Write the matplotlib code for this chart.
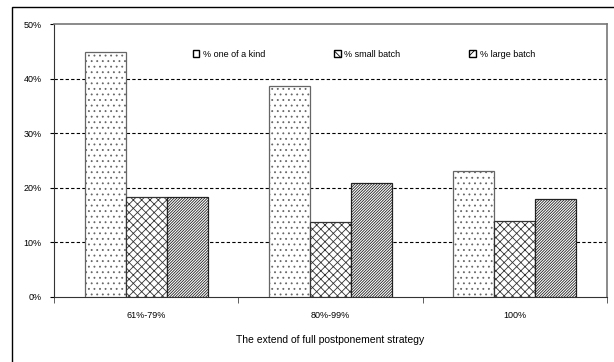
import matplotlib.pyplot as plt
import numpy as np
from matplotlib.patches import Patch, Rectangle

plt.rcParams['font.family'] = ['Liberation Sans', 'DejaVu Sans']
plt.rcParams['hatch.linewidth'] = 0.6

categories = ["61%-79%", "80%-99%", "100%"]
series_names = ["% one of a kind", "% small batch", "% large batch"]
one_of_a_kind = [44.8, 38.6, 23.0]
small_batch = [18.3, 13.8, 14.0]
large_batch = [18.3, 20.8, 17.9]
y_ticks = [0, 10, 20, 30, 40, 50]

series = [one_of_a_kind, small_batch, large_batch]
hatches = ['...', 'xxxx', '////////////']
edges = ['#666666', '#333333', '#222222']

fig = plt.figure(figsize=(6.14, 3.62), dpi=100)
ax = fig.add_axes([54 / 614, 1 - 297 / 362, 553 / 614, 273 / 362])

# outer chart frame
fig.patches.append(Rectangle((12 / 614, -0.05), 1.0, 1 - 7 / 362 + 0.05,
                             transform=fig.transFigure, fill=False,
                             edgecolor='black', linewidth=1.0))

x = np.arange(len(categories))
width = 0.223
for i, (vals, h, ec) in enumerate(zip(series, hatches, edges)):
    ax.bar(x + (i - 1) * width, vals, width, color='white', edgecolor=ec,
           hatch=h, linewidth=0.9, zorder=3)

ax.set_xlim(-0.5, 2.5)
ax.set_ylim(0, 50)
ax.set_yticks(y_ticks)
ax.set_yticklabels([f"{v}%" for v in y_ticks], fontsize=6.5)
ax.set_xticks(x)
ax.set_xticklabels(categories, fontsize=6.5)
ax.tick_params(axis='x', length=0, pad=10)
ax.set_xticks([-0.5, 0.5, 1.5, 2.5], minor=True)
ax.tick_params(axis='x', which='minor', length=4, direction='out', color='#444444')
ax.tick_params(axis='y', length=3, direction='out', pad=6)

for v in y_ticks[1:-1]:
    ax.axhline(v, color='black', linestyle=(0, (3, 2)), linewidth=0.8, zorder=1)

for side in ['top', 'right']:
    ax.spines[side].set_color('#777777')
    ax.spines[side].set_linewidth(1.2)
ax.spines['left'].set_color('#333333')
ax.spines['bottom'].set_color('#333333')

ax.set_xlabel("The extend of full postponement strategy", fontsize=7.5, labelpad=11)

handles = [Patch(facecolor='white', edgecolor='black', hatch=h, linewidth=1.0)
           for h in ['', 'xx', '////']]
ax.legend(handles, series_names, loc='center left', bbox_to_anchor=(0.236, 0.89),
          ncol=3, frameon=False, fontsize=6.5, handlelength=0.75, handleheight=0.75,
          handletextpad=0.4, columnspacing=7.6)

fig.savefig("out.png", dpi=100)
